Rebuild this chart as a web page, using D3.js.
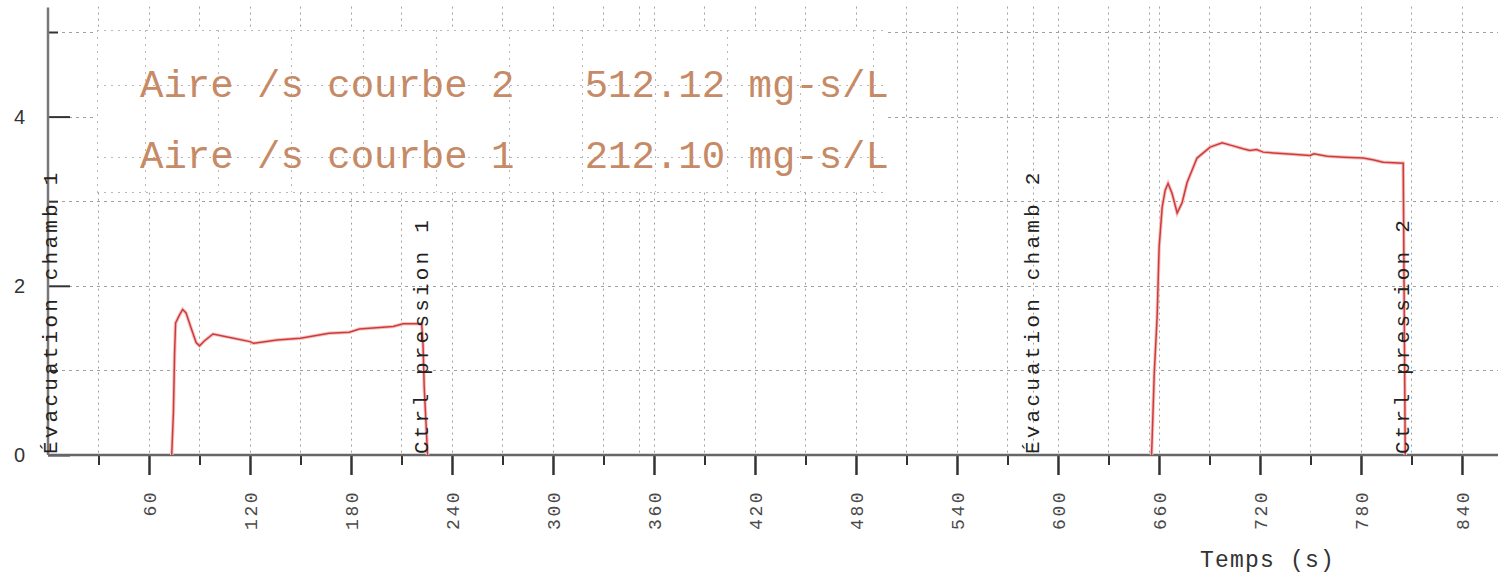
<!DOCTYPE html>
<html>
<head>
<meta charset="utf-8">
<script src="https://cdn.jsdelivr.net/npm/d3@7"></script>
<style>
  html, body { margin: 0; padding: 0; background: #fff; }
  svg { display: block; }
</style>
</head>
<body>
<div class="chart"></div>
<script>
// donnees
const courbe1 = [
  [73.5, 0], [74.5, 0.5], [75.2, 1.2], [75.8, 1.56], [78, 1.65], [80, 1.72], [82, 1.68],
  [85, 1.5], [88, 1.33], [90, 1.29], [93, 1.35], [98, 1.43], [108, 1.39], [120, 1.34],
  [122, 1.32], [136, 1.36], [150, 1.38], [167, 1.44], [179, 1.45], [185, 1.49],
  [205, 1.52], [211, 1.55], [222, 1.55], [222.8, 1.3], [223.5, 0.8], [225.5, 0]
]
const courbe2 = [
  [655.6, 0], [656.2, 0.35], [657.2, 0.97], [658.9, 1.63], [660.1, 2.46], [661.9, 2.93],
  [663.7, 3.13], [665.4, 3.21], [667.8, 3.09], [670.8, 2.86], [673.7, 2.98], [676.7, 3.22],
  [682.6, 3.51], [690.4, 3.64], [697.5, 3.69], [703, 3.66], [710, 3.62], [714, 3.60],
  [718, 3.61], [721.9, 3.58], [735, 3.56], [749.8, 3.54], [752, 3.56], [760, 3.53],
  [770, 3.52], [781.3, 3.51], [787, 3.49], [793.2, 3.46], [805.1, 3.45], [805.6, 2.0],
  [806.3, 0]
]
const evenements = [
  { t: 5.3, label: "Évacuation chamb 1" },
  { t: 225.8, label: "Ctrl pression 1" },
  { t: 589, label: "Évacuation chamb 2" },
  { t: 808.5, label: "Ctrl pression 2" }
]
const annotations = [
  "Aire /s courbe 2   512.12 mg-s/L",
  "Aire /s courbe 1   212.10 mg-s/L"
]
const xMajeurs = d3.range(60, 841, 60)
const xMineurs = d3.range(30, 871, 60)
const yMajeurs = [0, 2, 4]
const yMineurs = [1, 3, 5]
const xGrille = d3.range(30, 871, 30)
const yGrille = [1, 2, 3, 4, 5]
const xGrilleExtra = [351, 585, 654]
const titreX = "Temps (s)"

const dim = { WIDTH: 1498, HEIGHT: 577 }

const x = d3.scaleLinear().domain([0, 870]).range([48, 48 + 870 * 1.6833])
const y = d3.scaleLinear().domain([0, 5]).range([455, 32])

const svg = d3.select(".chart")
  .append("svg")
  .attr("width", dim.WIDTH)
  .attr("height", dim.HEIGHT)

// grille
const grille = svg.append("g").attr("class", "grille")
  .attr("stroke", "#a0a0a0")
  .attr("stroke-width", 1)
  .attr("stroke-dasharray", "2,4")

grille.selectAll(".gv")
  .data(xGrille.concat(xGrilleExtra))
  .join("line")
  .attr("x1", d => Math.round(x(d)) + 0.5)
  .attr("x2", d => Math.round(x(d)) + 0.5)
  .attr("y1", y(5.3))
  .attr("y2", y(0))

grille.selectAll(".gh")
  .data(yGrille)
  .join("line")
  .attr("x1", x(0))
  .attr("x2", dim.WIDTH)
  .attr("y1", d => Math.round(y(d)) + 0.5)
  .attr("y2", d => Math.round(y(d)) + 0.5)
  .attr("stroke-dasharray", "3,4")

// cadre des annotations (avec sa propre grille)
const cadre = svg.append("g").attr("class", "cadre")
const box = { x0: 97, x1: 885, y0: 30, y1: 192 }
cadre.append("rect")
  .attr("x", box.x0)
  .attr("y", box.y0)
  .attr("width", box.x1 - box.x0)
  .attr("height", box.y1 - box.y0)
  .attr("fill", "#fff")

const cadreLignes = cadre.append("g")
  .attr("stroke", "#b8b8b8")
  .attr("stroke-width", 1)
  .attr("stroke-dasharray", "2,5")

cadreLignes.selectAll(".cv")
  .data(d3.range(0, 11))
  .join("line")
  .attr("x1", i => Math.round(145 + i * 72.8) + 0.5)
  .attr("x2", i => Math.round(145 + i * 72.8) + 0.5)
  .attr("y1", box.y0)
  .attr("y2", box.y1)

cadreLignes.selectAll(".ch")
  .data([box.y0, 85, 157, box.y1])
  .join("line")
  .attr("x1", box.x0)
  .attr("x2", box.x1)
  .attr("y1", d => d + 0.5)
  .attr("y2", d => d + 0.5)

cadreLignes.append("line")
  .attr("x1", box.x0 + 0.5).attr("x2", box.x0 + 0.5)
  .attr("y1", box.y0).attr("y2", box.y1)

cadre.selectAll(".annot")
  .data(annotations)
  .join("text")
  .attr("x", 140)
  .attr("y", (_, i) => 97 + i * 71)
  .attr("fill", "#c68a66")
  .style("font-family", "'Liberation Mono', 'DejaVu Sans Mono', monospace")
  .style("font-size", "39px")
  .style("white-space", "pre")
  .attr("xml:space", "preserve")
  .text(d => d)

// axes
const axeXMin = svg.append("g")
  .attr("transform", `translate(0 ${y(0)})`)
  .call(d3.axisBottom(x).tickValues(xMineurs).tickSize(10).tickFormat(""))
const axeX = svg.append("g")
  .attr("transform", `translate(0 ${y(0)})`)
  .call(d3.axisBottom(x).tickValues(xMajeurs).tickSize(20).tickFormat(d3.format("d")))

svg.selectAll(".domain").remove()
axeXMin.selectAll("line").attr("stroke", "#333").attr("stroke-width", 2)
axeX.selectAll("line").attr("stroke", "#333").attr("stroke-width", 2.5)
axeX.selectAll("text")
  .attr("transform", "rotate(-90)")
  .attr("x", -35)
  .attr("y", 0)
  .attr("dy", "0.36em")
  .attr("text-anchor", "end")
  .attr("fill", "#4a4a4a")
  .style("font-family", "'Liberation Mono', monospace")
  .style("font-size", "18px")
  .style("letter-spacing", "2.5px")

const axeYMin = svg.append("g")
  .attr("transform", `translate(${x(0)} 0)`)
  .call(d3.axisLeft(y).tickValues(yMineurs).tickSize(-10).tickFormat(""))
const axeY = svg.append("g")
  .attr("transform", `translate(${x(0)} 0)`)
  .call(d3.axisLeft(y).tickValues(yMajeurs).tickSize(-22).tickPadding(23).tickFormat(d3.format("d")))
svg.selectAll(".domain").remove()
axeYMin.selectAll("line").attr("stroke", "#333").attr("stroke-width", 2)
axeY.selectAll("line").attr("stroke", "#333").attr("stroke-width", 2)
axeY.selectAll("text")
  .attr("fill", "#333")
  .style("font-family", "'Liberation Sans', sans-serif")
  .style("font-size", "20px")

svg.append("line")
  .attr("x1", x(0)).attr("x2", dim.WIDTH)
  .attr("y1", y(0)).attr("y2", y(0))
  .attr("stroke", "#666").attr("stroke-width", 2.5)
svg.append("line")
  .attr("x1", x(0)).attr("x2", x(0))
  .attr("y1", y(5.29)).attr("y2", y(0))
  .attr("stroke", "#777").attr("stroke-width", 2.5)

// courbes
const ligne = d3.line().x(d => x(d[0])).y(d => y(d[1]))
const courbes = svg.append("g").attr("class", "courbes").attr("fill", "none")
courbes.selectAll(".halo")
  .data([courbe1, courbe2])
  .join("path")
  .attr("d", ligne)
  .attr("stroke", "#f2c4c4")
  .attr("stroke-width", 3.5)
courbes.selectAll(".trait")
  .data([courbe1, courbe2])
  .join("path")
  .attr("d", ligne)
  .attr("stroke", "#d23a3a")
  .attr("stroke-width", 1.5)

// evenements
svg.selectAll(".evt")
  .data(evenements)
  .join("text")
  .attr("transform", d => `translate(${x(d.t)} ${y(0)}) rotate(-90)`)
  .attr("x", 1)
  .attr("fill", "#222")
  .style("font-family", "'Liberation Mono', monospace")
  .style("font-size", "21px")
  .style("letter-spacing", "3.2px")
  .text(d => d.label)

svg.append("text")
  .attr("x", 1200)
  .attr("y", 567)
  .attr("fill", "#333")
  .style("font-family", "'Liberation Mono', monospace")
  .style("font-size", "23px")
  .style("letter-spacing", "1.2px")
  .style("white-space", "pre")
  .text(titreX)
</script>
</body>
</html>
